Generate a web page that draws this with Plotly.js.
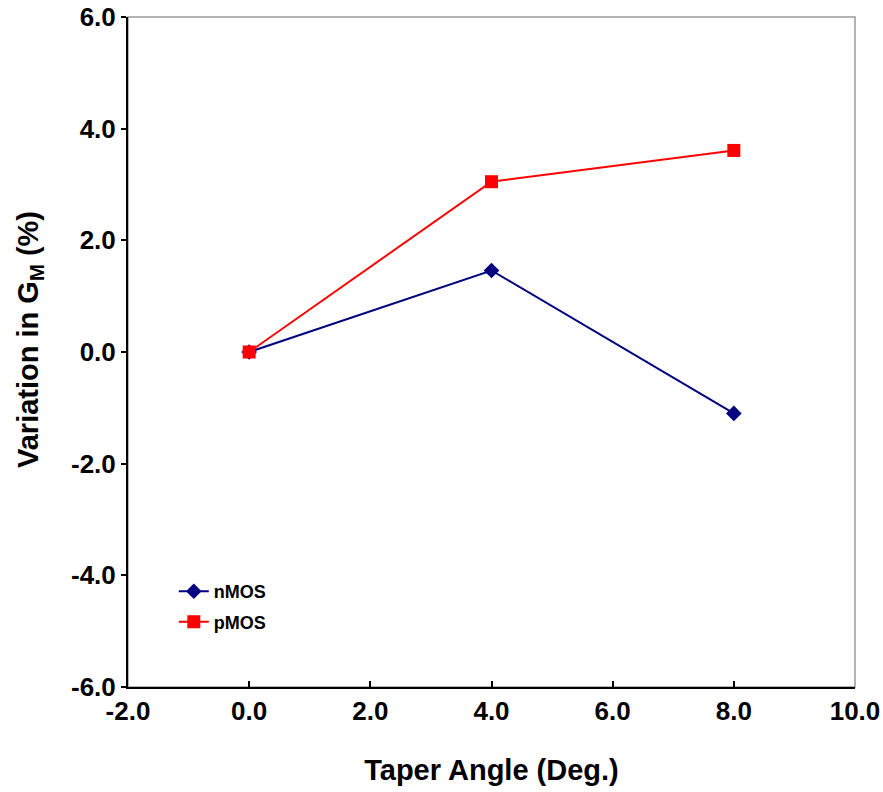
<!DOCTYPE html>
<html><head><meta charset="utf-8">
<script src="https://cdn.plot.ly/plotly-3.0.1.min.js"></script>
<style>html,body{margin:0;padding:0;background:#fff}#chart{width:883px;height:792px}</style>
</head><body><div id="chart"></div>
<script>
const taperAngle = [0, 4, 8];
const nMOS = [0, 1.46, -1.1];
const pMOS = [0, 3.05, 3.61];
const xTicks = [-2, 0, 2, 4, 6, 8, 10];
const yTicks = [-6, -4, -2, 0, 2, 4, 6];

const fam = 'Liberation Sans, Arial, sans-serif';
const traces = [
  {x: taperAngle, y: nMOS, name: 'nMOS', mode: 'lines+markers', legendgroup: 'a',
   line: {color: '#000080', width: 2}, marker: {symbol: 'diamond', size: 12, color: '#000080'}},
  {x: taperAngle, y: pMOS, name: 'pMOS', mode: 'lines+markers', legendgroup: 'b',
   line: {color: '#ff0000', width: 2}, marker: {symbol: 'square', size: 13, color: '#ff0000'}}
];
const layout = {
  width: 883, height: 792,
  margin: {l: 128, r: 28, t: 17, b: 105},
  paper_bgcolor: '#fff', plot_bgcolor: '#fff',
  showlegend: true,
  legend: {x: 0.063, y: 0.17, xanchor: 'left', yanchor: 'top', bgcolor: 'rgba(0,0,0,0)',
           font: {family: fam, size: 18, color: '#000', weight: 'bold'}, tracegroupgap: 4},
  xaxis: {range: [-2, 10], tickvals: xTicks, ticktext: xTicks.map(v => v.toFixed(1)),
          showgrid: false, zeroline: false, showline: true, linecolor: '#000', linewidth: 2,
          ticks: 'inside', ticklen: 6, tickwidth: 2, tickcolor: '#000',
          tickfont: {family: fam, size: 26, color: '#000', weight: 'bold'},
          title: {text: 'Taper Angle (Deg.)', standoff: 34,
                  font: {family: fam, size: 29, color: '#000', weight: 'bold'}}},
  yaxis: {range: [-6, 6], tickvals: yTicks, ticktext: yTicks.map(v => v.toFixed(1)),
          showgrid: false, zeroline: false, showline: true, linecolor: '#000', linewidth: 2,
          ticks: 'outside', ticklen: 5, tickwidth: 2, tickcolor: '#000',
          tickfont: {family: fam, size: 26, color: '#000', weight: 'bold'}},
  annotations: [{text: 'Variation in G<sub>M</sub> (%)', textangle: -90, showarrow: false,
                 xref: 'paper', yref: 'paper', x: (30 - 128) / 727, y: (687 - 340) / 670,
                 xanchor: 'center', yanchor: 'middle',
                 font: {family: fam, size: 29, color: '#000', weight: 'bold'}}],
  shapes: [{type: 'rect', xref: 'paper', yref: 'paper', x0: 0, x1: 1, y0: 0, y1: 1,
            line: {color: '#999', width: 1.5}, layer: 'below'}]
};
Plotly.newPlot('chart', traces, layout, {displayModeBar: false});
</script></body></html>
